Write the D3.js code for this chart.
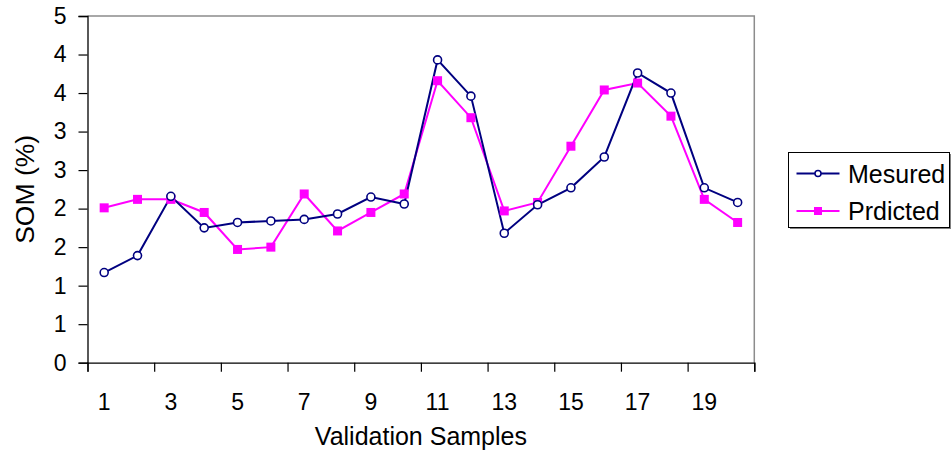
<!DOCTYPE html>
<html>
<head>
<meta charset="utf-8">
<script src="https://cdn.jsdelivr.net/npm/d3@7/dist/d3.min.js"></script>
<style>
  html, body { margin: 0; padding: 0; background: #fff; }
  svg { display: block; }
  text { font-family: "Liberation Sans", Arial, sans-serif; fill: #000; }
</style>
</head>
<body>
<svg id="chart" width="951" height="456"></svg>
<script>
// Sample numbers along the x axis
const samples = d3.range(1, 21);
// Soil organic matter, measured vs. model output (%)
const measured  = [1.17, 1.39, 2.16, 1.75, 1.82, 1.84, 1.86, 1.93, 2.15, 2.06,
                   3.93, 3.46, 1.68, 2.05, 2.27, 2.67, 3.76, 3.50, 2.27, 2.08];
const predicted = [2.01, 2.12, 2.12, 1.95, 1.47, 1.50, 2.19, 1.71, 1.95, 2.19,
                   3.66, 3.18, 1.97, 2.08, 2.81, 3.54, 3.63, 3.20, 2.12, 1.82];
// Y axis ticks every 0.5, labelled with whole numbers
const yTickValues = [0, 0.5, 1, 1.5, 2, 2.5, 3, 3.5, 4, 4.5];
const yTickLabels = ["0", "1", "1", "2", "2", "3", "3", "4", "4", "5"];
// X axis labels on every other sample
const xTickLabels = [1, 3, 5, 7, 9, 11, 13, 15, 17, 19];
const seriesNames = ["Mesured", "Prdicted"];

const svg = d3.select("#chart");
const plot = { left: 87.5, right: 754.3, top: 16, bottom: 362.7 };

const x = d3.scaleBand().domain(samples).range([plot.left, plot.right]).padding(0);
const y = d3.scaleLinear().domain([0, 4.5]).range([plot.bottom, plot.top]);
const cx = d => x(d) + x.bandwidth() / 2;

// Plot frame: grey top and right edges
svg.append("path")
  .attr("d", `M${plot.left},${plot.top}H${plot.right}V${plot.bottom}`)
  .attr("fill", "none").attr("stroke", "#8c8c8c").attr("stroke-width", 1.5);

// Y axis
const yAxis = d3.axisLeft(y)
  .tickValues(yTickValues)
  .tickFormat((d, i) => yTickLabels[i])
  .tickSize(9).tickPadding(12);
const gy = svg.append("g").attr("transform", `translate(${plot.left},0)`).call(yAxis);
gy.select(".domain").attr("stroke", "#000").attr("stroke-width", 1.3);
gy.selectAll(".tick line").attr("stroke", "#000").attr("stroke-width", 1.2);
gy.selectAll(".tick text").attr("font-size", 23).attr("font-family", "Liberation Sans, Arial, sans-serif").attr("fill", "#000");

// X axis: ticks on every second band boundary, labels centred on odd samples
const xBoundary = d3.scaleLinear().domain([0, 20]).range([plot.left, plot.right]);
const xAxis = d3.axisBottom(xBoundary)
  .tickValues(d3.range(0, 21, 2))
  .tickFormat("")
  .tickSize(9);
const gx = svg.append("g").attr("transform", `translate(0,${plot.bottom})`).call(xAxis);
gx.select(".domain").attr("stroke", "#000").attr("stroke-width", 1.3);
gx.selectAll(".tick line").attr("stroke", "#000").attr("stroke-width", 1.2);

svg.append("g").selectAll("text")
  .data(xTickLabels)
  .join("text")
  .attr("x", d => cx(d))
  .attr("y", plot.bottom + 47)
  .attr("text-anchor", "middle")
  .attr("font-size", 23)
  .text(d => d);

// Axis titles
svg.append("text")
  .attr("x", (plot.left + plot.right) / 2)
  .attr("y", 445)
  .attr("text-anchor", "middle")
  .attr("font-size", 25)
  .text("Validation Samples");

svg.append("text")
  .attr("transform", `translate(34,${(plot.top + plot.bottom) / 2}) rotate(-90)`)
  .attr("text-anchor", "middle")
  .attr("font-size", 26.5)
  .text("SOM (%)");

// Series
const line = d3.line().x((d, i) => cx(samples[i])).y(d => y(d));
const navy = "#000080", magenta = "#ff00ff";

svg.append("path").datum(predicted)
  .attr("d", line).attr("fill", "none")
  .attr("stroke", magenta).attr("stroke-width", 2);
svg.append("path").datum(measured)
  .attr("d", line).attr("fill", "none")
  .attr("stroke", navy).attr("stroke-width", 2);

svg.append("g").selectAll("rect")
  .data(predicted)
  .join("rect")
  .attr("x", (d, i) => cx(samples[i]) - 4.5)
  .attr("y", d => y(d) - 4.5)
  .attr("width", 9).attr("height", 9)
  .attr("fill", magenta);

svg.append("g").selectAll("circle")
  .data(measured)
  .join("circle")
  .attr("cx", (d, i) => cx(samples[i]))
  .attr("cy", d => y(d))
  .attr("r", 4)
  .attr("fill", "#fff")
  .attr("stroke", navy).attr("stroke-width", 1.6);

// Legend
const legend = svg.append("g").attr("transform", "translate(788.5,152.5)");
legend.append("rect")
  .attr("x", 1.5).attr("y", 1.5).attr("width", 161).attr("height", 75)
  .attr("fill", "#7f7f7f");
legend.append("rect")
  .attr("width", 161).attr("height", 75)
  .attr("fill", "#fff").attr("stroke", "#000").attr("stroke-width", 1);

const rows = legend.selectAll("g.row")
  .data(seriesNames)
  .join("g")
  .attr("class", "row")
  .attr("transform", (d, i) => `translate(0,${i === 0 ? 21 : 58.5})`);
rows.append("line")
  .attr("x1", 8).attr("x2", 51).attr("y1", 0).attr("y2", 0)
  .attr("stroke", (d, i) => i === 0 ? navy : magenta).attr("stroke-width", 2);
rows.each(function (d, i) {
  const g = d3.select(this);
  if (i === 0) {
    g.append("circle").attr("cx", 29.5).attr("cy", 0).attr("r", 3)
      .attr("fill", "#fff").attr("stroke", navy).attr("stroke-width", 1.5);
  } else {
    g.append("rect").attr("x", 25.5).attr("y", -4).attr("width", 8).attr("height", 8)
      .attr("fill", magenta);
  }
});
rows.append("text")
  .attr("x", 59.5).attr("y", 9)
  .attr("font-size", 25)
  .text(d => d);
</script>
</body>
</html>
